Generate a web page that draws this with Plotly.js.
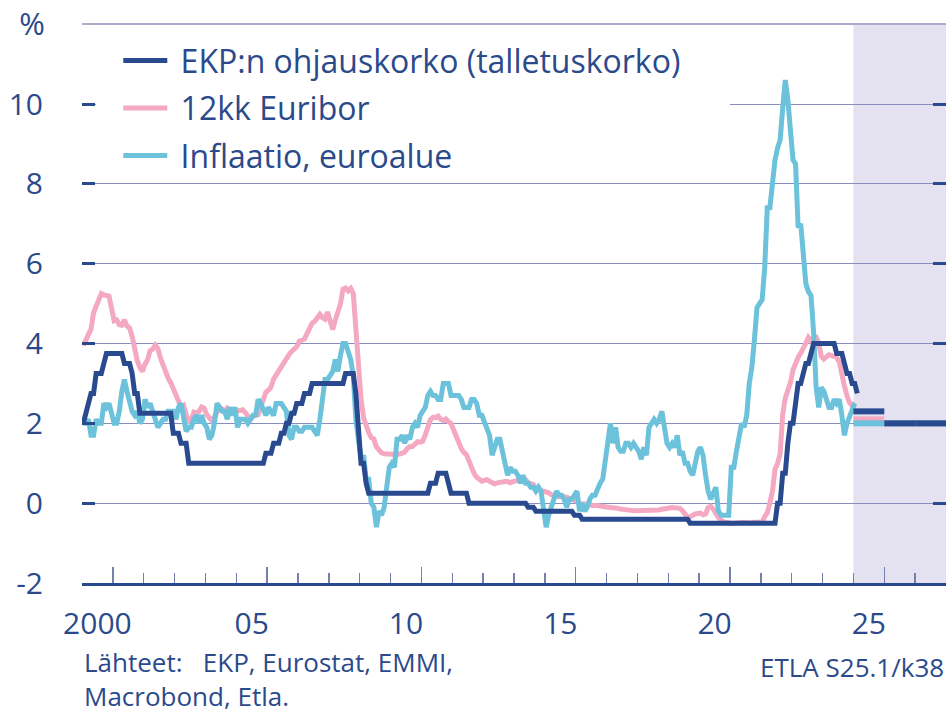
<!DOCTYPE html>
<html>
<head>
<meta charset="utf-8">
<script src="https://cdn.plot.ly/plotly-3.0.1.min.js"></script>
<style>body{margin:0;background:#fff}#chart{width:950px;height:717px}</style>
</head>
<body>
<div id="chart"></div>
<script>
// monthly data from Jan 2000
var ekp = [
  2.00,2.25,2.50,2.75,2.75,3.25,3.25,3.25,3.50,3.75,3.75,3.75,
  3.75,3.75,3.75,3.75,3.50,3.50,3.50,3.25,2.75,2.75,2.25,2.25,
  2.25,2.25,2.25,2.25,2.25,2.25,2.25,2.25,2.25,2.25,2.25,1.75,
  1.75,1.75,1.50,1.50,1.50,1.00,1.00,1.00,1.00,1.00,1.00,1.00,
  1.00,1.00,1.00,1.00,1.00,1.00,1.00,1.00,1.00,1.00,1.00,1.00,
  1.00,1.00,1.00,1.00,1.00,1.00,1.00,1.00,1.00,1.00,1.00,1.25,
  1.25,1.25,1.50,1.50,1.50,1.75,1.75,2.00,2.00,2.25,2.25,2.50,
  2.50,2.50,2.75,2.75,2.75,3.00,3.00,3.00,3.00,3.00,3.00,3.00,
  3.00,3.00,3.00,3.00,3.00,3.00,3.25,3.25,3.25,3.25,2.75,2.00,
  1.00,1.00,0.50,0.25,0.25,0.25,0.25,0.25,0.25,0.25,0.25,0.25,
  0.25,0.25,0.25,0.25,0.25,0.25,0.25,0.25,0.25,0.25,0.25,0.25,
  0.25,0.25,0.25,0.50,0.50,0.50,0.75,0.75,0.75,0.75,0.50,0.25,
  0.25,0.25,0.25,0.25,0.25,0.25,0.00,0.00,0.00,0.00,0.00,0.00,
  0.00,0.00,0.00,0.00,0.00,0.00,0.00,0.00,0.00,0.00,0.00,0.00,
  0.00,0.00,0.00,0.00,0.00,-0.10,-0.10,-0.10,-0.20,-0.20,-0.20,-0.20,
  -0.20,-0.20,-0.20,-0.20,-0.20,-0.20,-0.20,-0.20,-0.20,-0.20,-0.20,-0.30,
  -0.30,-0.30,-0.40,-0.40,-0.40,-0.40,-0.40,-0.40,-0.40,-0.40,-0.40,-0.40,
  -0.40,-0.40,-0.40,-0.40,-0.40,-0.40,-0.40,-0.40,-0.40,-0.40,-0.40,-0.40,
  -0.40,-0.40,-0.40,-0.40,-0.40,-0.40,-0.40,-0.40,-0.40,-0.40,-0.40,-0.40,
  -0.40,-0.40,-0.40,-0.40,-0.40,-0.40,-0.40,-0.40,-0.50,-0.50,-0.50,-0.50,
  -0.50,-0.50,-0.50,-0.50,-0.50,-0.50,-0.50,-0.50,-0.50,-0.50,-0.50,-0.50,
  -0.50,-0.50,-0.50,-0.50,-0.50,-0.50,-0.50,-0.50,-0.50,-0.50,-0.50,-0.50,
  -0.50,-0.50,-0.50,-0.50,-0.50,-0.50,0.00,0.00,0.75,0.75,1.50,2.00,
  2.00,2.50,3.00,3.00,3.25,3.50,3.50,3.75,4.00,4.00,4.00,4.00,
  4.00,4.00,4.00,4.00,4.00,3.75,3.75,3.75,3.50,3.25,3.25,3.00,
  3.00,2.75
];
var euribor = [
  3.95,4.11,4.27,4.36,4.77,4.96,5.11,5.25,5.22,5.22,5.19,4.88,
  4.57,4.59,4.47,4.46,4.59,4.44,4.39,4.18,3.85,3.57,3.40,3.30,
  3.48,3.59,3.82,3.86,3.96,3.87,3.64,3.44,3.24,3.13,3.02,2.87,
  2.71,2.50,2.41,2.45,2.26,2.01,2.08,2.28,2.26,2.30,2.41,2.38,
  2.22,2.16,2.06,2.16,2.30,2.40,2.36,2.30,2.38,2.32,2.33,2.30,
  2.31,2.31,2.34,2.27,2.19,2.10,2.17,2.22,2.22,2.41,2.68,2.78,
  2.83,2.91,3.11,3.22,3.31,3.40,3.54,3.62,3.72,3.80,3.86,3.92,
  4.06,4.09,4.11,4.25,4.37,4.51,4.56,4.67,4.73,4.65,4.61,4.79,
  4.50,4.35,4.59,4.82,4.99,5.36,5.39,5.32,5.38,5.25,4.35,3.45,
  2.62,2.14,1.91,1.77,1.64,1.61,1.41,1.33,1.26,1.24,1.23,1.24,
  1.23,1.23,1.22,1.23,1.25,1.28,1.37,1.42,1.42,1.50,1.54,1.53,
  1.55,1.71,1.92,2.09,2.15,2.14,2.18,2.10,2.07,2.11,2.04,2.00,
  1.84,1.68,1.50,1.37,1.27,1.22,1.06,0.88,0.74,0.65,0.59,0.55,
  0.57,0.59,0.55,0.53,0.48,0.51,0.53,0.54,0.54,0.54,0.51,0.54,
  0.56,0.55,0.58,0.60,0.59,0.51,0.49,0.47,0.36,0.34,0.33,0.33,
  0.30,0.26,0.21,0.18,0.17,0.16,0.17,0.16,0.15,0.13,0.08,0.06,
  0.04,-0.01,-0.01,-0.01,-0.01,-0.03,-0.06,-0.05,-0.06,-0.07,-0.07,-0.08,
  -0.10,-0.11,-0.11,-0.12,-0.13,-0.15,-0.15,-0.16,-0.17,-0.18,-0.19,-0.19,
  -0.19,-0.19,-0.19,-0.19,-0.19,-0.18,-0.18,-0.17,-0.17,-0.15,-0.15,-0.13,
  -0.12,-0.11,-0.11,-0.11,-0.13,-0.19,-0.28,-0.36,-0.34,-0.30,-0.27,-0.26,
  -0.25,-0.29,-0.27,-0.11,-0.08,-0.15,-0.28,-0.36,-0.42,-0.47,-0.48,-0.50,
  -0.51,-0.50,-0.49,-0.48,-0.48,-0.48,-0.49,-0.50,-0.49,-0.48,-0.49,-0.50,
  -0.48,-0.34,-0.24,0.01,0.29,0.85,0.99,1.25,2.23,2.63,2.83,3.02,
  3.34,3.53,3.65,3.76,3.86,4.01,4.15,4.07,4.15,4.16,4.02,3.68,
  3.61,3.67,3.72,3.70,3.68,3.65,3.53,3.17,2.94,2.69,2.51,2.44,
  2.52
];
var inflaatio = [
  2.0,2.0,2.1,1.7,1.7,2.1,2.0,2.0,2.5,2.4,2.5,2.2,
  2.0,2.0,2.3,2.8,3.1,2.8,2.5,2.3,2.2,2.3,2.0,2.1,
  2.6,2.4,2.5,2.3,2.0,1.9,2.0,2.1,2.1,2.3,2.3,2.3,
  2.1,2.4,2.5,2.1,1.8,1.9,1.9,2.1,2.2,2.0,2.2,2.0,
  1.9,1.6,1.7,2.0,2.5,2.4,2.3,2.3,2.1,2.4,2.2,2.4,
  1.9,2.1,2.1,2.1,2.0,2.1,2.2,2.2,2.6,2.5,2.3,2.2,
  2.4,2.3,2.2,2.5,2.5,2.5,2.4,2.3,1.7,1.6,1.9,1.9,
  1.8,1.8,1.9,1.9,1.9,1.9,1.8,1.7,2.1,2.6,3.1,3.1,
  3.2,3.3,3.6,3.3,3.7,4.0,4.0,3.8,3.6,3.2,2.1,1.6,
  1.1,1.2,0.6,0.6,0.0,-0.1,-0.6,-0.2,-0.3,-0.1,0.5,0.9,
  1.0,0.9,1.6,1.6,1.7,1.5,1.7,1.6,1.9,2.0,1.9,2.2,
  2.3,2.4,2.7,2.8,2.7,2.7,2.6,2.6,3.0,3.0,3.0,2.7,
  2.7,2.7,2.7,2.6,2.4,2.4,2.4,2.6,2.6,2.5,2.2,2.2,
  2.0,1.8,1.7,1.2,1.4,1.6,1.6,1.3,1.1,0.7,0.9,0.8,
  0.8,0.7,0.5,0.7,0.5,0.5,0.4,0.4,0.3,0.4,0.3,-0.2,
  -0.6,-0.3,-0.1,0.0,0.3,0.2,0.2,0.1,-0.1,0.1,0.1,0.2,
  0.3,-0.2,0.0,-0.2,-0.1,0.1,0.2,0.2,0.4,0.5,0.6,1.1,
  1.7,2.0,1.5,1.9,1.4,1.3,1.3,1.5,1.5,1.4,1.5,1.4,
  1.3,1.1,1.4,1.2,1.9,2.0,2.1,2.0,2.1,2.3,1.9,1.5,
  1.4,1.5,1.4,1.7,1.2,1.3,1.0,1.0,0.8,0.7,1.0,1.3,
  1.4,1.2,0.7,0.3,0.1,0.3,0.4,-0.2,-0.3,-0.3,-0.3,-0.3,
  0.9,0.9,1.3,1.6,2.0,1.9,2.2,3.0,3.4,4.1,4.9,5.0,
  5.1,5.9,7.4,7.4,8.1,8.6,8.9,9.1,9.9,10.6,10.1,9.2,
  8.6,8.5,6.9,7.0,6.1,5.5,5.3,5.2,4.3,2.9,2.4,2.9,
  2.8,2.6,2.4,2.4,2.6,2.5,2.6,2.2,1.7,2.0,2.2,2.4,
  2.5
];

// forecast years (shaded area) and yearly values
var ennusteVuodet = [2025, 2026, 2027];
var ennusteEkp = [2.3, 2.0, 2.0];
var ennusteEuribor = [2.1, 2.0, 2.0];
var ennusteInflaatio = [2.0, 2.0, 2.0];

// labels sit in the middle of the year, long ticks at the year end
var labelVuodet = [2000.5, 2005.5, 2010.5, 2015.5, 2020.5, 2025.5];
var labelTekstit = ['2000', '05', '10', '15', '20', '25'];
var pitkatTickit = [2001, 2006, 2011, 2016, 2021, 2026];
var lyhyetTickit = [2002, 2003, 2004, 2005, 2007, 2008, 2009, 2010, 2012, 2013, 2014, 2015,
                    2017, 2018, 2019, 2020, 2022, 2023, 2024, 2025, 2027];

var textColor = '#2b4a8b';
var cDark = '#2a4a90';
var cPink = '#f4a8c1';
var cCyan = '#6cc2da';
var fontFam = '"Open Sans", "Noto Sans", sans-serif';
var yRange = [-2, 12.03];

function kuukaudet(arr) {
  return arr.map(function (v, i) { return 2000 + (i + 0.5) / 12; });
}

function ennuste(vals) {
  var x = [], y = [];
  for (var i = 0; i < ennusteVuodet.length; i++) {
    x.push(ennusteVuodet[i], ennusteVuodet[i] + 1, null);
    y.push(vals[i], vals[i], null);
  }
  return {x: x, y: y};
}

var fEur = ennuste(ennusteEuribor);
var fInf = ennuste(ennusteInflaatio);
var fEkp = ennuste(ennusteEkp);

var data = [
  {x: kuukaudet(euribor), y: euribor, type: 'scatter', mode: 'lines', name: '\u00a012kk Euribor',
   line: {color: cPink, width: 5}, legendrank: 2, legendgroup: 'b'},
  {x: kuukaudet(inflaatio), y: inflaatio, type: 'scatter', mode: 'lines', name: '\u00a0Inflaatio, euroalue',
   line: {color: cCyan, width: 5}, legendrank: 3, legendgroup: 'c'},
  {x: kuukaudet(ekp), y: ekp, type: 'scatter', mode: 'lines', name: '\u00a0EKP:n ohjauskorko (talletuskorko)',
   line: {color: cDark, width: 5}, legendrank: 1, legendgroup: 'a'},
  {x: fEur.x, y: fEur.y, type: 'scatter', mode: 'lines', showlegend: false, line: {color: cPink, width: 6}},
  {x: fInf.x, y: fInf.y, type: 'scatter', mode: 'lines', showlegend: false, line: {color: cCyan, width: 6}},
  {x: fEkp.x, y: fEkp.y, type: 'scatter', mode: 'lines', showlegend: false, line: {color: cDark, width: 6}},
  // empty helpers so the overlay axes get drawn
  {x: [null], y: [null], xaxis: 'x2', yaxis: 'y', type: 'scatter', mode: 'lines', showlegend: false},
  {x: [null], y: [null], xaxis: 'x', yaxis: 'y2', type: 'scatter', mode: 'lines', showlegend: false}
];

var layout = {
  width: 950,
  height: 717,
  margin: {l: 82, r: 4, t: 23, b: 134},
  paper_bgcolor: '#ffffff',
  plot_bgcolor: '#ffffff',
  font: {family: fontFam, size: 30, color: textColor},
  showlegend: true,
  legend: {
    x: 0.042, y: 0.982, xanchor: 'left', yanchor: 'top',
    bgcolor: '#ffffff', borderwidth: 0,
    font: {family: fontFam, size: 32, color: textColor},
    itemwidth: 44, traceorder: 'grouped', tracegroupgap: 3
  },
  xaxis: {
    range: [2000, 2028],
    tickmode: 'array', tickvals: pitkatTickit, showticklabels: false,
    ticks: 'inside', ticklen: 16, tickwidth: 1.5, tickcolor: '#7580ab',
    minor: {tickmode: 'array', tickvals: lyhyetTickit,
            ticks: 'inside', ticklen: 10, tickwidth: 1.5, tickcolor: '#7580ab', showgrid: false},
    showline: true, linecolor: cDark, linewidth: 2.5,
    showgrid: false, zeroline: false
  },
  xaxis2: {
    overlaying: 'x', anchor: 'y', side: 'bottom',
    range: [2000, 2028],
    tickmode: 'array', tickvals: labelVuodet, ticktext: labelTekstit,
    ticks: '', ticklabelstandoff: 20,
    showline: false, showgrid: false, zeroline: false,
    tickfont: {family: fontFam, size: 30, color: textColor}
  },
  yaxis: {
    range: yRange,
    tickmode: 'array', tickvals: [-2, 0, 2, 4, 6, 8, 10], ticktext: ['-2', '0', '2', '4', '6', '8', '10'],
    ticks: 'inside', ticklen: 13, tickwidth: 3, tickcolor: cDark, mirror: 'ticks',
    ticklabelstandoff: 38,
    showgrid: true, gridcolor: '#8a8ebd', gridwidth: 1,
    showline: false, zeroline: false,
    tickfont: {family: fontFam, size: 30, color: textColor}
  },
  yaxis2: {
    overlaying: 'y', anchor: 'x', side: 'left',
    range: yRange,
    tickmode: 'array', tickvals: [12], ticktext: ['%'],
    ticks: '', ticklabelstandoff: 36,
    showgrid: true, gridcolor: '#a9abcb', gridwidth: 2.5,
    showline: false, zeroline: false,
    tickfont: {family: fontFam, size: 31, color: textColor}
  },
  shapes: [
    {type: 'rect', xref: 'x', yref: 'paper', x0: 2025, x1: 2028, y0: 0, y1: 1,
     fillcolor: '#e4e2f0', line: {width: 0}, layer: 'below'},
    // white area behind the legend hides the 10 gridline
    {type: 'rect', xref: 'x', yref: 'y', x0: 2000.45, x1: 2021, y0: 9.7, y1: 10.3,
     fillcolor: '#ffffff', line: {width: 0}, layer: 'between'}
  ],
  annotations: [
    {xref: 'paper', yref: 'paper', x: 0, y: -0.2375, xanchor: 'left', yanchor: 'bottom', align: 'left',
     showarrow: false,
     text: 'Lähteet:\u00a0\u00a0\u00a0EKP, Eurostat, EMMI,<br>Macrobond, Etla.',
     font: {family: fontFam, size: 26, color: textColor}},
    {xref: 'paper', yref: 'paper', x: 1, y: -0.150, xanchor: 'right', yanchor: 'middle', showarrow: false,
     text: 'ETLA S25.1/k38', font: {family: fontFam, size: 26, color: textColor}}
  ]
};

Plotly.newPlot('chart', data, layout, {displayModeBar: false, staticPlot: true});
</script>
</body>
</html>
